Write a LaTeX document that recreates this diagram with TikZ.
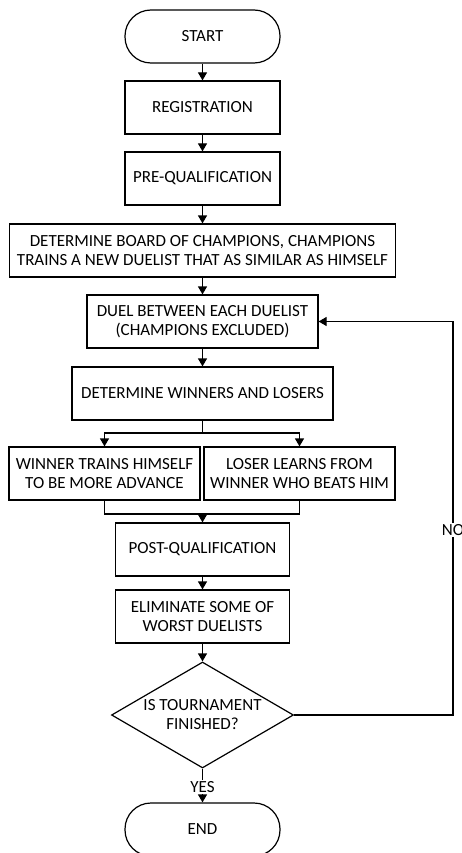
\documentclass[tikz,border=0pt]{standalone}
\usepackage{fontspec}
\setmainfont{Carlito}
\usepackage{tikz}
\usetikzlibrary{arrows.meta}
\usetikzlibrary{shapes.geometric}
\usetikzlibrary{calc,positioning}

\begin{document}
\begin{tikzpicture}[x=1pt, y=-1pt, >={Triangle[width=9pt,length=8pt]}, line width=1.2pt,
    every node/.style={font=\fontsize{17}{19}\selectfont},
    box/.style={draw, rectangle, align=center, inner sep=0pt, minimum height=53pt},
    term/.style={box, rounded corners=26pt, minimum width=155pt},
    decision/.style={draw, diamond, align=center, inner sep=0pt, aspect=1.72, minimum width=182pt, minimum height=106pt},
    lbl/.style={fill=white, inner sep=1pt}]

    \useasboundingbox (0,0) rectangle (461,853);
    \clip (0,0) rectangle (461,853);

    \node[term] (start) at (202.5,36.5) {START};
    \node[box, minimum width=155pt] (reg) at (202.5,107.5) {REGISTRATION};
    \node[box, minimum width=155pt] (preq) at (202.5,178.5) {PRE-QUALIFICATION};
    \node[box, minimum width=386pt] (board) at (202.5,250.5) {DETERMINE BOARD OF CHAMPIONS, CHAMPIONS\\TRAINS A NEW DUELIST THAT AS SIMILAR AS HIMSELF};
    \node[box, minimum width=231pt] (duel) at (202.5,321.5) {DUEL BETWEEN EACH DUELIST\\(CHAMPIONS EXCLUDED)};
    \node[box, minimum width=261pt] (winlose) at (202.5,393.5) {DETERMINE WINNERS AND LOSERS};
    \node[box, minimum width=191pt] (winner) at (104.5,473.5) {WINNER TRAINS HIMSELF\\TO BE MORE ADVANCE};
    \node[box, minimum width=191pt] (loser) at (299.5,473.5) {LOSER LEARNS FROM\\WINNER WHO BEATS HIM};
    \node[box, minimum width=174pt] (post) at (202.5,549.5) {POST-QUALIFICATION};
    \node[box, minimum width=174pt] (elim) at (202.5,616.5) {ELIMINATE SOME OF\\WORST DUELISTS};
    \node[decision] (dec) at (202.5,715) {IS TOURNAMENT\\FINISHED?};
    \node[term] (end) at (202.5,829.5) {END};

    \draw[->] (start) -- (reg);
    \draw[->] (reg) -- (preq);
    \draw[->] (preq) -- (board);
    \draw[->] (board) -- (duel);
    \draw[->] (duel) -- (winlose);

    % split to winner and loser
    \coordinate (split) at (202.5,433);
    \draw (winlose) -- (split);
    \draw[->] (split) -| (winner);
    \draw[->] (split) -| (loser);

    % merge again
    \coordinate (merge) at (202.5,514);
    \draw (winner) |- (merge) -| (loser);
    \draw[->] (merge) -- (post);
    \draw[->] (post) -- (elim);
    \draw[->] (elim) -- (dec);

    % yes
    \node[lbl] (yes) at (202.5,787) {YES};
    \draw (dec) -- (yes);
    \draw[->] (yes) -- (end);

    % no, back to the duel
    \coordinate (back) at (453,715);
    \draw[->] (dec) -- (back) |- (duel);
    \node[lbl] (no) at (453,530) {NO};

\end{tikzpicture}
\end{document}
